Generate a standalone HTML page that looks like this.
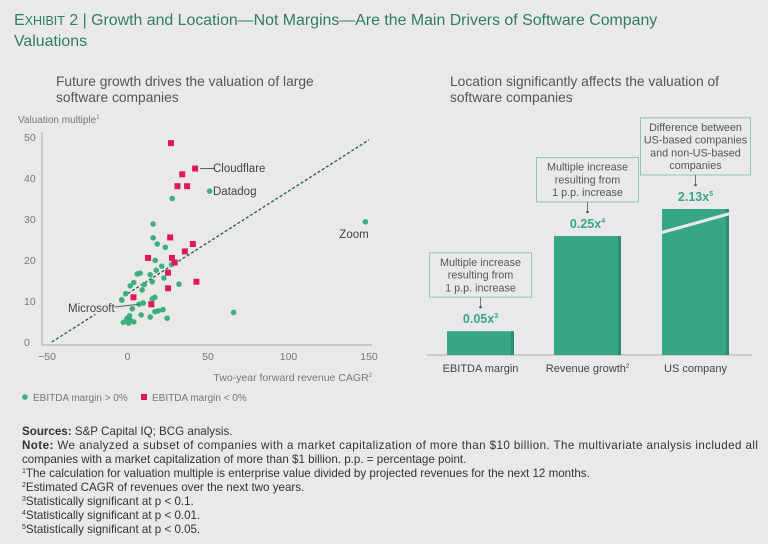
<!DOCTYPE html>
<html><head><meta charset="utf-8"><style>
body{margin:0;background:#e9e9eb;font-family:"Liberation Sans",sans-serif}
svg{display:block}
text{font-family:"Liberation Sans",sans-serif}
</style></head><body>
<svg id="c" width="768" height="544" xmlns="http://www.w3.org/2000/svg">
<rect width="768" height="544" fill="#e9e9eb"/>
<text x="14" y="25" font-size="15.9" fill="#2f7d63">E<tspan font-size="12.5">XHIBIT</tspan> 2 | Growth and Location—Not Margins—Are the Main Drivers of Software Company</text>
<text x="14" y="46" font-size="15.9" fill="#2f7d63">Valuations</text>
<text x="56" y="86" font-size="13.8" fill="#555">Future growth drives the valuation of large</text>
<text x="56" y="102" font-size="13.8" fill="#555">software companies</text>
<text x="450" y="86" font-size="13.8" fill="#555">Location significantly affects the valuation of</text>
<text x="450" y="102" font-size="13.8" fill="#555">software companies</text>
<text x="18" y="123" font-size="10" fill="#777">Valuation multiple<tspan font-size="6" dy="-4">1</tspan></text>
<text x="372" y="381" font-size="10.5" fill="#777" text-anchor="end">Two-year forward revenue CAGR<tspan font-size="6" dy="-4">2</tspan></text>
<g id="scatter"></g>
<g id="bars"></g>
<circle cx="25" cy="397" r="2.8" fill="#3db07a"/>
<text x="33" y="401" font-size="10" fill="#777">EBITDA margin &gt; 0%</text>
<rect x="141" y="394" width="6" height="6" fill="#e0185a"/>
<text x="152" y="401" font-size="10" fill="#777">EBITDA margin &lt; 0%</text>
<g font-size="11.6" fill="#333">
<text x="22" y="435"><tspan font-weight="bold">Sources:</tspan> S&amp;P Capital IQ; BCG analysis.</text>
<text x="22" y="449" textLength="736" lengthAdjust="spacing"><tspan font-weight="bold">Note:</tspan> We analyzed a subset of companies with a market capitalization of more than $10 billion. The multivariate analysis included all</text>
<text x="22" y="463">companies with a market capitalization of more than $1 billion. p.p. = percentage point.</text>
<text x="22" y="477"><tspan font-size="7" dy="-4">1</tspan><tspan dy="4">The calculation for valuation multiple is enterprise value divided by projected revenues for the next 12 months.</tspan></text>
<text x="22" y="491"><tspan font-size="7" dy="-4">2</tspan><tspan dy="4">Estimated CAGR of revenues over the next two years.</tspan></text>
<text x="22" y="505"><tspan font-size="7" dy="-4">3</tspan><tspan dy="4">Statistically significant at p &lt; 0.1.</tspan></text>
<text x="22" y="519"><tspan font-size="7" dy="-4">4</tspan><tspan dy="4">Statistically significant at p &lt; 0.01.</tspan></text>
<text x="22" y="533"><tspan font-size="7" dy="-4">5</tspan><tspan dy="4">Statistically significant at p &lt; 0.05.</tspan></text>
</g>
</svg>
<script>
const xTicks=[-50,0,50,100,150];
const yTicks=[0,10,20,30,40,50];
const posX=[27.8,147.8,65.9,15.9,15.9,18.5,23.5,17.2,27.4,21.3,17.8,6.1,7.8,14.1,22.6,3.9,1.7,15.4,10.4,32,9.1,-1.1,-3.5,17,15.4,7.2,9.8,3,17,19.1,22,8.5,14.1,24.6,1.3,-0.4,-2.6,0.7,3.9,1.7,51];
const posY=[35,29.3,7.2,28.8,25.4,23.9,23.1,19.9,18.9,18.5,17.5,16.6,16.8,16.4,15.6,14.5,13.7,14.7,14.0,14.1,12.7,11.8,10.2,10.9,10.5,9.2,9.5,8.1,7.4,7.6,7.9,6.6,6.1,5.8,6.4,5.7,4.8,4.6,4.9,5.3,36.8];
const negX=[27,42,34,31,37,26.5,40.6,35.6,12.8,27.6,29.3,25.2,42.8,25.2,3.7,14.8];
const negY=[48.5,42.3,40.9,38,38,25.5,23.9,22.1,20.5,20.5,19.4,16.9,14.7,13.1,10.9,9.2];
const trendX=[-47,150];
const trendY=[0,49.3];
const barCats=["EBITDA margin","Revenue growth","US company"];
const barVals=[0.05,0.25,2.13];
const barLabels=["0.05x","0.25x","2.13x"];
const barSups=["3","4","5"];
const barNotes=[["Multiple increase","resulting from","1 p.p. increase"],["Multiple increase","resulting from","1 p.p. increase"],["Difference between","US-based companies","and non-US-based","companies"]];
const NS="http://www.w3.org/2000/svg";
function mk(p,t,a){const e=document.createElementNS(NS,t);for(const k in a)e.setAttribute(k,a[k]);p.appendChild(e);return e;}
const sx=v=>127.5+v*1.61, sy=v=>342-v*4.1;
const sc=document.getElementById('scatter');
let ax=mk(sc,'path',{d:'M42 132 V345 H372',stroke:'#aaa',fill:'none'});


xTicks.forEach(t=>{const e=mk(sc,'text',{x:sx(t),y:360,'font-size':10.5,fill:'#777','text-anchor':'middle'});e.textContent=t<0?'\u2212'+(-t):t;

});
yTicks.forEach(t=>{const e=mk(sc,'text',{x:24,y:sy(t)+4,'font-size':10.5,fill:'#777'});e.textContent=t;

});
const tl=(a,b)=>{const f=x=>trendY[0]+(x-trendX[0])*(trendY[1]-trendY[0])/(trendX[1]-trendX[0]);
const l=mk(sc,'line',{x1:sx(a),y1:sy(f(a)),x2:sx(b),y2:sy(f(b)),stroke:'#1f5c45','stroke-width':1.3,'stroke-dasharray':'3,2'});

};
tl(trendX[0],-20);tl(-5,trendX[1]);
posX.forEach((x,i)=>{const c=mk(sc,'circle',{cx:sx(x),cy:sy(posY[i]),r:2.8,fill:'#3db07a'});

});
negX.forEach((x,i)=>{const r=mk(sc,'rect',{x:sx(x)-3,y:sy(negY[i])-3,width:6,height:6,fill:'#e0185a'});

});
const lab=(t,x,y,a,n)=>{const e=mk(sc,'text',{x,y,'font-size':11.5,fill:'#444','text-anchor':a||'start'});e.textContent=t;

};
mk(sc,'line',{x1:sx(negX[1])+5,y1:sy(negY[1]),x2:sx(negX[1])+20,y2:sy(negY[1]),stroke:'#555'});
lab('Cloudflare',213,172,'start','cloudflare-label');
lab('Datadog',213,195,'start','datadog-label');
lab('Zoom',354,238,'middle','zoom-label');
lab('Microsoft',68,312,'start','microsoft-label');
mk(sc,'line',{x1:115,y1:307,x2:sx(7.2),y2:sy(9.2),stroke:'#555'});
const bg=document.getElementById('bars');
const base=355, bx=[447,554,662], bw=67, hs=476, maxH=146;
mk(bg,'line',{x1:427,y1:base,x2:752,y2:base,stroke:'#aaa'});
barVals.forEach((v,i)=>{let h=v*hs,broken=false;if(h>maxH){h=maxH;broken=true;}
const top=base-h;
const r=mk(bg,'rect',{x:bx[i],y:top,width:bw,height:h,fill:'#36a685'});


mk(bg,'rect',{x:bx[i]+bw-3,y:top,width:3,height:h,fill:'#2b8c6f'});
if(broken){mk(bg,'line',{x1:bx[i]-2,y1:top+24,x2:bx[i]+bw+3,y2:top+4,stroke:'#e9e9eb','stroke-width':3});}
const cx=bx[i]+bw/2;
const t=mk(bg,'text',{x:cx,y:top-8,'font-size':12.5,'font-weight':'bold',fill:'#36a685','text-anchor':'middle'});
t.innerHTML=barLabels[i]+'<tspan font-size="7" dy="-5">'+barSups[i]+'</tspan>';


const c=mk(bg,'text',{x:cx,y:372,'font-size':11,fill:'#444','text-anchor':'middle'});
c.innerHTML=barCats[i]+(i==1?'<tspan font-size="6" dy="-4">2</tspan>':'');


const lines=barNotes[i];const bh=lines.length*12.8+6;const boxBottom=top-34;const boxTop=boxBottom-bh;
const bwid=i==2?110:102;
const b=mk(bg,'rect',{x:cx-bwid/2,y:boxTop,width:bwid,height:bh,fill:'none',stroke:'#8cc7b3','stroke-width':1});


mk(bg,'line',{x1:cx,y1:boxBottom,x2:cx,y2:top-24,stroke:'#777'});
mk(bg,'circle',{cx:cx,cy:top-24,r:1.3,fill:'#555'});
lines.forEach((s,j)=>{const e=mk(bg,'text',{x:cx,y:boxTop+13+j*12.8,'font-size':10.8,fill:'#555','text-anchor':'middle'});e.textContent=s;

});
});
</script>
</body></html>
